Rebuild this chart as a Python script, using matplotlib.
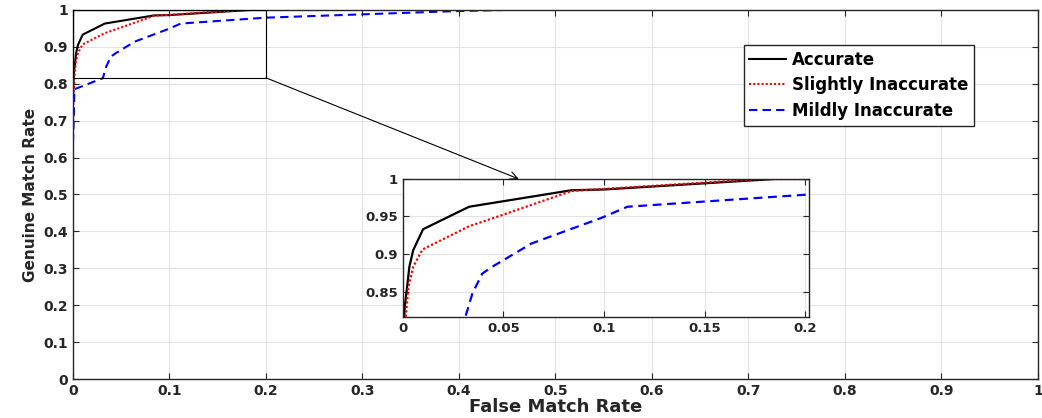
import matplotlib.pyplot as plt
from matplotlib.patches import Rectangle, ConnectionPatch

# ROC-style curves
acc_fmr = [0, 0.0005, 0.001, 0.002, 0.0033, 0.0052, 0.0101, 0.033, 0.0839, 0.1, 0.185, 1.0]
acc_gmr = [0.75, 0.80, 0.83, 0.852, 0.883, 0.905, 0.933, 0.963, 0.985, 0.986, 1.0, 1.0]

slight_fmr = [0, 0.0005, 0.0015, 0.0028, 0.0052, 0.0098, 0.033, 0.0495, 0.0839, 0.143, 0.179, 1.0]
slight_gmr = [0.675, 0.76, 0.816, 0.856, 0.883, 0.906, 0.937, 0.952, 0.984, 0.994, 1.0, 1.0]

mild_fmr = [0, 0.001, 0.0015, 0.031, 0.0347, 0.0396, 0.0445, 0.064, 0.0986, 0.1117, 0.2, 0.4, 0.45, 1.0]
mild_gmr = [0.64, 0.72, 0.785, 0.815, 0.848, 0.874, 0.883, 0.914, 0.948, 0.963, 0.979, 0.997, 1.0, 1.0]

labels = ["Accurate", "Slightly Inaccurate", "Mildly Inaccurate"]

main_ticks = [i / 10 for i in range(11)]
main_ticklabels = ["0", "0.1", "0.2", "0.3", "0.4", "0.5", "0.6", "0.7", "0.8", "0.9", "1"]
inset_xticks = [0, 0.05, 0.1, 0.15, 0.2]
inset_xticklabels = ["0", "0.05", "0.1", "0.15", "0.2"]
inset_yticks = [0.85, 0.9, 0.95, 1.0]
inset_yticklabels = ["0.85", "0.9", "0.95", "1"]

zoom_x = (0, 0.2)
zoom_y = (0.816, 1.0)

plt.rcParams["font.family"] = "DejaVu Sans"
plt.rcParams["font.weight"] = "bold"


def draw_curves(ax, lw=1.5):
    ax.plot(acc_fmr, acc_gmr, color="black", lw=lw, label=labels[0])
    ax.plot(slight_fmr, slight_gmr, color="red", lw=lw, linestyle=(0, (1, 1)), label=labels[1])
    ax.plot(mild_fmr, mild_gmr, color="blue", lw=lw, linestyle=(0, (4, 2.5)), label=labels[2])


def style_axes(ax, fs):
    ax.grid(True, color="#e3e3e3", lw=0.8)
    ax.set_axisbelow(True)
    ax.tick_params(direction="in", top=True, right=True, labelsize=fs,
                   color="#262626", labelcolor="#262626", length=4)
    for s in ax.spines.values():
        s.set_color("#262626")
        s.set_linewidth(1.0)


fig = plt.figure(figsize=(10.42, 4.18), dpi=100)

ax = fig.add_axes([0.070, 0.0933, 0.926, 0.883])
draw_curves(ax)
ax.set_xlim(0, 1)
ax.set_ylim(0, 1)
ax.set_xticks(main_ticks, main_ticklabels)
ax.set_yticks(main_ticks, main_ticklabels)
style_axes(ax, 10)
ax.set_xlabel("False Match Rate", fontsize=13, fontweight="bold", color="#262626", labelpad=0)
ax.set_ylabel("Genuine Match Rate", fontsize=11, fontweight="bold", color="#262626", labelpad=4)

ax.add_patch(Rectangle((zoom_x[0], zoom_y[0]), zoom_x[1] - zoom_x[0], zoom_y[1] - zoom_y[0],
                       fill=False, edgecolor="black", lw=0.8, zorder=5))

leg = ax.legend(loc="upper left", bbox_to_anchor=(0.695, 0.905), fontsize=12,
                handlelength=2.2, handletextpad=0.35, borderpad=0.35, labelspacing=0.45,
                fancybox=False, framealpha=1, edgecolor="#262626", borderaxespad=0)
leg.get_frame().set_linewidth(1.0)
for t in leg.get_texts():
    t.set_fontweight("bold")

ins = fig.add_axes([0.3865, 0.2416, 0.390, 0.3302])
draw_curves(ins, lw=1.6)
ins.set_xlim(0, 0.202)
ins.set_ylim(*zoom_y)
ins.set_xticks(inset_xticks, inset_xticklabels)
ins.set_yticks(inset_yticks, inset_yticklabels)
style_axes(ins, 9.5)

con = ConnectionPatch(xyA=(zoom_x[1], zoom_y[0]), coordsA=ax.transData,
                      xyB=(0.0577, 1.0), coordsB=ins.transData,
                      arrowstyle="->", color="black", lw=0.8, mutation_scale=14)
fig.add_artist(con)

fig.savefig("out.png", dpi=100)
